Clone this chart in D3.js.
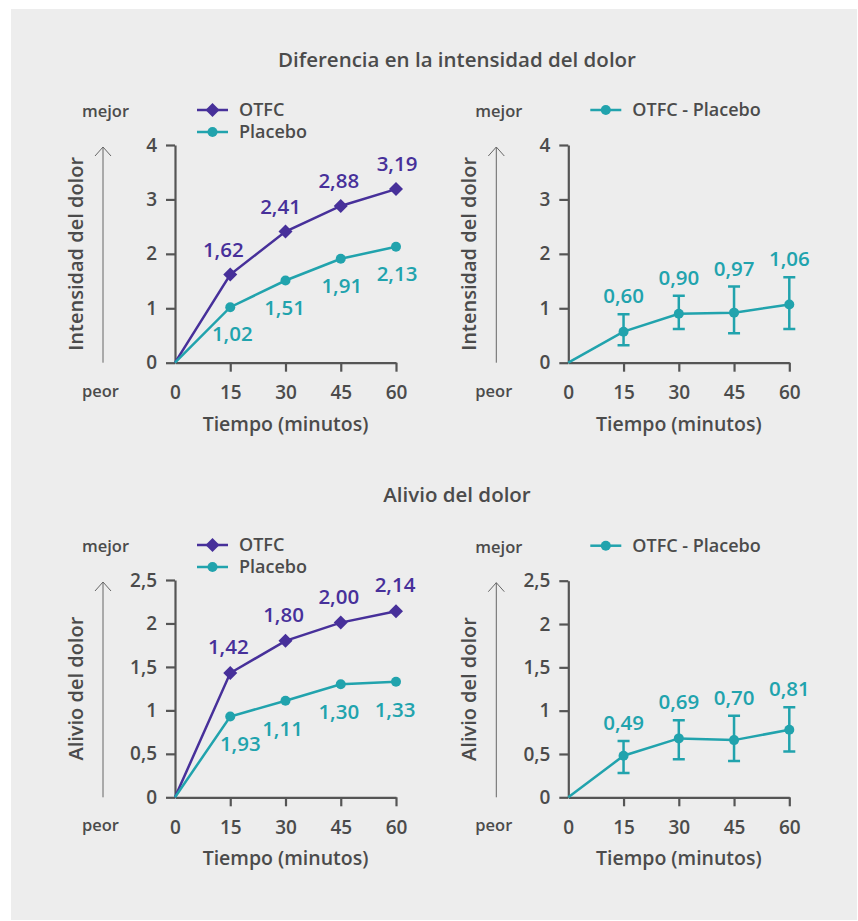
<!DOCTYPE html>
<html>
<head>
<meta charset="utf-8">
<script src="https://cdn.jsdelivr.net/npm/d3@7"></script>
<style>
  body { margin: 0; background: #fff; }
  svg text { font-family: "Open Sans", "Lato", sans-serif; font-weight: 600; }
</style>
</head>
<body>
<div class="chart"></div>
<script>
// tiempos (minutos)
var times = [0, 15, 30, 45, 60];

// Diferencia en la intensidad del dolor
var intensOTFC = [0, 1.62, 2.41, 2.88, 3.19];
var intensOTFCLabels = ["", "1,62", "2,41", "2,88", "3,19"];
var intensPlacebo = [0, 1.02, 1.51, 1.91, 2.13];
var intensPlaceboLabels = ["", "1,02", "1,51", "1,91", "2,13"];
var intensDiff = [0, 0.57, 0.90, 0.92, 1.07];
var intensDiffLow = [null, 0.32, 0.62, 0.54, 0.62];
var intensDiffHigh = [null, 0.89, 1.23, 1.40, 1.57];
var intensDiffLabels = ["", "0,60", "0,90", "0,97", "1,06"];
var intensTicks = [0, 1, 2, 3, 4];

// Alivio del dolor
var reliefOTFC = [0, 1.43, 1.80, 2.01, 2.14];
var reliefOTFCLabels = ["", "1,42", "1,80", "2,00", "2,14"];
var reliefPlacebo = [0, 0.93, 1.11, 1.30, 1.33];
var reliefPlaceboLabels = ["", "1,93", "1,11", "1,30", "1,33"];
var reliefDiff = [0, 0.48, 0.68, 0.66, 0.78];
var reliefDiffLow = [null, 0.28, 0.44, 0.42, 0.53];
var reliefDiffHigh = [null, 0.65, 0.89, 0.94, 1.04];
var reliefDiffLabels = ["", "0,49", "0,69", "0,70", "0,81"];
var reliefTicks = [0, 0.5, 1, 1.5, 2, 2.5];

var width = 858, height = 921;
var purple = "#47309a", teal = "#21a3ad", grey = "#4b4b4b", axisGrey = "#555";

var es = d3.formatLocale({decimal: ",", thousands: ".", grouping: [3], currency: ["", "€"]});
var fmt = function(d) { return es.format("~g")(d); };

var svg = d3.select(".chart").append("svg")
    .attr("width", width)
    .attr("height", height);

svg.append("rect")
    .attr("x", 11).attr("y", 9)
    .attr("width", 846).attr("height", 911)
    .attr("fill", "#ededed");

svg.append("text")
    .attr("x", 457).attr("y", 67)
    .attr("text-anchor", "middle")
    .attr("font-size", 20.5)
    .attr("fill", grey)
    .text("Diferencia en la intensidad del dolor");

svg.append("text")
    .attr("x", 457).attr("y", 502)
    .attr("text-anchor", "middle")
    .attr("font-size", 20.5)
    .attr("fill", grey)
    .text("Alivio del dolor");

function drawPanel(opt) {
  var x = d3.scaleLinear().domain([0, 60]).range([opt.left, opt.left + 221]);
  var y = d3.scaleLinear().domain([0, opt.ymax]).range([opt.bottom, opt.top]);
  var g = svg.append("g");

  // eje y
  var ya = g.append("g")
      .attr("transform", "translate(" + opt.left + ",0)")
      .call(d3.axisLeft(y).tickValues(opt.ticks).tickFormat(fmt).tickSize(9).tickSizeOuter(0).tickPadding(9));
  // eje x
  var xa = g.append("g")
      .attr("transform", "translate(0," + opt.bottom + ")")
      .call(d3.axisBottom(x).tickValues(times).tickSize(9).tickSizeOuter(0).tickPadding(14));
  [ya, xa].forEach(function(a) {
    a.selectAll("path, line").attr("stroke", axisGrey).attr("stroke-width", 2.2);
    a.selectAll("text").attr("font-size", 19).attr("fill", grey)
      .style("font-family", '"Open Sans", sans-serif').style("font-weight", 600);
  });
  // el 0 del eje x solo lleva etiqueta
  xa.selectAll(".tick").filter(function(d) { return d === 0; }).select("line").remove();

  g.append("text")
      .attr("x", (opt.left + opt.left + 221) / 2)
      .attr("y", opt.bottom + 68)
      .attr("text-anchor", "middle")
      .attr("font-size", 19.5)
      .attr("fill", grey)
      .text("Tiempo (minutos)");

  g.append("text")
      .attr("transform", "translate(" + (opt.left - 92) + "," + ((opt.top + opt.bottom) / 2) + ") rotate(-90)")
      .attr("text-anchor", "middle")
      .attr("font-size", 20)
      .attr("fill", grey)
      .text(opt.ytitle);

  // flecha mejor / peor
  var ax = opt.left - 72;
  g.append("line")
      .attr("x1", ax).attr("x2", ax)
      .attr("y1", opt.top + 2).attr("y2", opt.bottom)
      .attr("stroke", "#666").attr("stroke-width", 1);
  g.append("path")
      .attr("d", "M" + (ax - 8) + "," + (opt.top + 11) + "L" + ax + "," + (opt.top + 2) + "L" + (ax + 8) + "," + (opt.top + 11))
      .attr("fill", "none").attr("stroke", "#666").attr("stroke-width", 1);
  g.append("text")
      .attr("x", opt.left - 93).attr("y", opt.top - 28)
      .attr("font-size", 16.5).attr("fill", grey)
      .text("mejor");
  g.append("text")
      .attr("x", opt.left - 93).attr("y", opt.bottom + 34)
      .attr("font-size", 16.5).attr("fill", grey)
      .text("peor");

  var line = d3.line()
      .x(function(d, i) { return x(times[i]); })
      .y(function(d) { return y(d); });

  opt.series.forEach(function(s, k) {
    // leyenda
    var ly = opt.top - 35 + k * 22;
    var lx = opt.left + 22;
    g.append("line")
        .attr("x1", lx).attr("x2", lx + 31)
        .attr("y1", ly).attr("y2", ly)
        .attr("stroke", s.color).attr("stroke-width", 2.5);
    drawMarker(g, s.marker, lx + 15.5, ly, s.color);
    g.append("text")
        .attr("x", lx + 42).attr("y", ly + 6)
        .attr("font-size", 18).attr("fill", grey)
        .text(s.name);

    // barras de error
    if (s.low) {
      times.forEach(function(t, i) {
        if (s.low[i] == null) return;
        var ex = x(t);
        g.append("path")
            .attr("d", "M" + ex + "," + y(s.low[i]) + "V" + y(s.high[i]) +
                 "M" + (ex - 6) + "," + y(s.low[i]) + "H" + (ex + 6) +
                 "M" + (ex - 6) + "," + y(s.high[i]) + "H" + (ex + 6))
            .attr("fill", "none").attr("stroke", s.color).attr("stroke-width", 2.5);
      });
    }

    g.append("path")
        .datum(s.values)
        .attr("d", line)
        .attr("fill", "none")
        .attr("stroke", s.color)
        .attr("stroke-width", 2.5);

    s.values.forEach(function(v, i) {
      if (i === 0) return;
      drawMarker(g, s.marker, x(times[i]), y(v), s.color);
      var base = s.high ? y(s.high[i]) : y(v);
      g.append("text")
          .attr("x", x(times[i]) + (s.dx ? s.dx[i] : 0))
          .attr("y", base + s.dy)
          .attr("text-anchor", "middle")
          .attr("font-size", 20.5)
          .attr("fill", s.color)
          .text(s.labels[i]);
    });
  });
}

function drawMarker(g, type, cx, cy, color) {
  if (type === "diamond") {
    g.append("path")
        .attr("d", "M" + cx + "," + (cy - 7) + "L" + (cx + 7) + "," + cy + "L" + cx + "," + (cy + 7) + "L" + (cx - 7) + "," + cy + "Z")
        .attr("fill", color);
  } else {
    g.append("circle")
        .attr("cx", cx).attr("cy", cy).attr("r", 5)
        .attr("fill", color);
  }
}

drawPanel({
  left: 175, top: 145, bottom: 362.7, ymax: 4, ticks: intensTicks,
  ytitle: "Intensidad del dolor",
  series: [
    {name: "OTFC", values: intensOTFC, labels: intensOTFCLabels, color: purple, marker: "diamond", dy: -18, dx: [0, -7, -5, -2, 1]},
    {name: "Placebo", values: intensPlacebo, labels: intensPlaceboLabels, color: teal, marker: "circle", dy: 34, dx: [0, 2, -1, 1, 1]}
  ]
});

drawPanel({
  left: 568.3, top: 145, bottom: 362.7, ymax: 4, ticks: intensTicks,
  ytitle: "Intensidad del dolor",
  series: [
    {name: "OTFC - Placebo", values: intensDiff, low: intensDiffLow, high: intensDiffHigh,
     labels: intensDiffLabels, color: teal, marker: "circle", dy: -11}
  ]
});

drawPanel({
  left: 175, top: 580, bottom: 797.3, ymax: 2.5, ticks: reliefTicks,
  ytitle: "Alivio del dolor",
  series: [
    {name: "OTFC", values: reliefOTFC, labels: reliefOTFCLabels, color: purple, marker: "diamond", dy: -19, dx: [0, -2, -2, -2, -1]},
    {name: "Placebo", values: reliefPlacebo, labels: reliefPlaceboLabels, color: teal, marker: "circle", dy: 35, dx: [0, 10, -3, -2, -1]}
  ]
});

drawPanel({
  left: 568.3, top: 580.7, bottom: 797.3, ymax: 2.5, ticks: reliefTicks,
  ytitle: "Alivio del dolor",
  series: [
    {name: "OTFC - Placebo", values: reliefDiff, low: reliefDiffLow, high: reliefDiffHigh,
     labels: reliefDiffLabels, color: teal, marker: "circle", dy: -11}
  ]
});
</script>
</body>
</html>
